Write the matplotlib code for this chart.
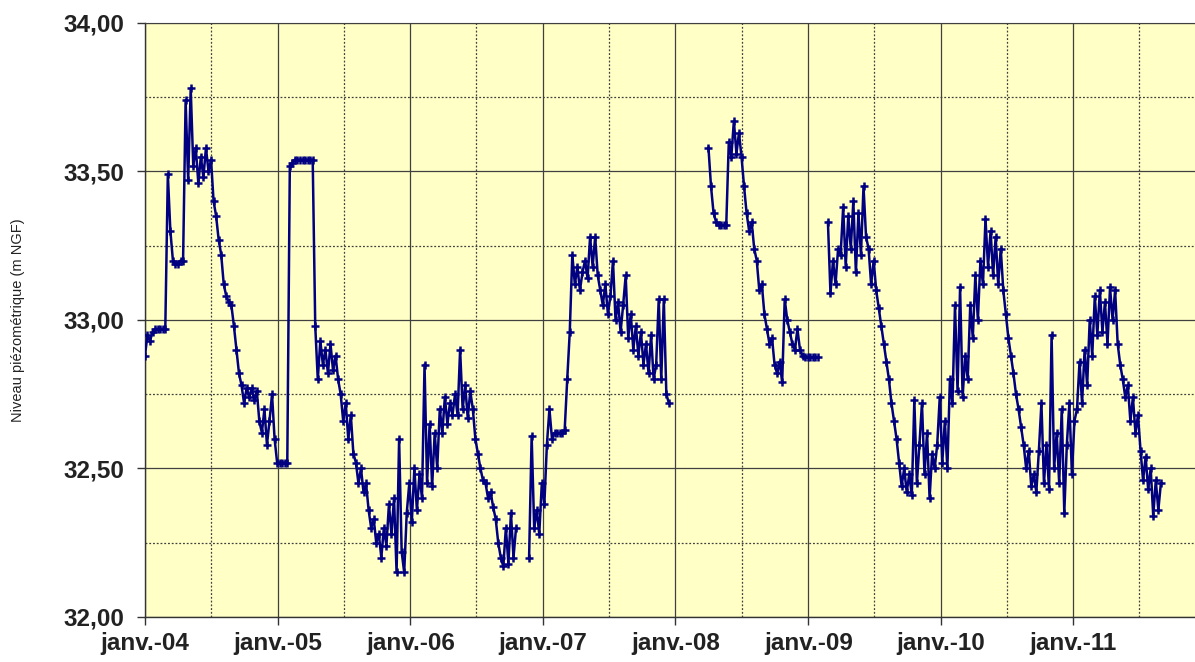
import matplotlib
matplotlib.use("Agg")
import matplotlib.pyplot as plt
import matplotlib.dates as mdates
import matplotlib.ticker as mticker
import numpy as np
import pandas as pd

plt.rcParams['font.family'] = ['Liberation Sans', 'DejaVu Sans']

# Weekly readings of the piezometric level (m NGF), one list per recording period
seg1_start = '2004-01-01'
seg1_level = [
    32.88, 32.95, 32.93, 32.96, 32.97, 32.97, 32.97, 32.97, 32.97, 33.49,
    33.30, 33.20, 33.19, 33.19, 33.20, 33.20, 33.74, 33.47, 33.78, 33.52,
    33.58, 33.46, 33.55, 33.48, 33.58, 33.50, 33.54, 33.40, 33.35, 33.27,
    33.22, 33.12, 33.08, 33.06, 33.05, 32.98, 32.90, 32.82, 32.78, 32.72,
    32.77, 32.74, 32.77, 32.73, 32.76, 32.66, 32.62, 32.70, 32.58, 32.66,
    32.75, 32.60, 32.52, 32.52, 32.52, 32.52, 32.52, 33.52, 33.53, 33.54,
    33.54, 33.54, 33.54, 33.54, 33.54, 33.54, 33.54, 32.98, 32.80, 32.93,
    32.85, 32.90, 32.82, 32.92, 32.83, 32.88, 32.80, 32.75, 32.66, 32.72,
    32.60, 32.68, 32.55, 32.52, 32.45, 32.50, 32.42, 32.45, 32.36, 32.30,
    32.33, 32.25, 32.28, 32.20, 32.30, 32.24, 32.38, 32.28, 32.40, 32.15,
    32.60, 32.22, 32.15, 32.35, 32.45, 32.32, 32.50, 32.36, 32.48, 32.40,
    32.85, 32.45, 32.65, 32.44, 32.62, 32.50, 32.70, 32.62, 32.74, 32.65,
    32.72, 32.68, 32.75, 32.68, 32.90, 32.70, 32.78, 32.67, 32.76, 32.70,
    32.60, 32.55, 32.50, 32.46, 32.45, 32.40, 32.42, 32.37, 32.33, 32.25,
    32.20, 32.17, 32.30, 32.18, 32.35, 32.20, 32.30,
]
seg2_start = '2006-11-24'
seg2_level = [
    32.20, 32.61, 32.30, 32.36, 32.28, 32.45, 32.38, 32.58, 32.70, 32.60,
    32.62, 32.62, 32.62, 32.62, 32.63, 32.80, 32.96, 33.22, 33.12, 33.18,
    33.10, 33.16, 33.20, 33.14, 33.28, 33.18, 33.28, 33.15, 33.10, 33.05,
    33.12, 33.02, 33.08, 33.20, 33.00, 33.06, 32.96, 33.05, 33.15, 32.94,
    33.02, 32.90, 32.98, 32.88, 32.96, 32.85, 32.92, 32.82, 32.95, 32.80,
    32.85, 33.07, 32.80, 33.07, 32.75, 32.72,
]
seg3_start = '2008-04-01'
seg3_level = [
    33.58, 33.45, 33.36, 33.33, 33.32, 33.32, 33.32, 33.32, 33.60, 33.55,
    33.67, 33.56, 33.63, 33.55, 33.45, 33.36, 33.30, 33.33, 33.24, 33.20,
    33.10, 33.12, 33.02, 32.97, 32.92, 32.94, 32.85, 32.82, 32.86, 32.79,
    33.07, 33.00, 32.96, 32.92, 32.90, 32.97, 32.90, 32.88, 32.875, 32.875,
    32.875, 32.875, 32.875, 32.875,
]
seg4_start = '2009-02-24'
seg4_level = [
    33.33, 33.09, 33.20, 33.12, 33.24, 33.22, 33.38, 33.18, 33.35, 33.24,
    33.40, 33.16, 33.36, 33.22, 33.45, 33.28, 33.24, 33.12, 33.20, 33.10,
    33.04, 32.98, 32.92, 32.86, 32.80, 32.72, 32.66, 32.60, 32.52, 32.44,
    32.50, 32.42, 32.48, 32.41, 32.73, 32.45, 32.58, 32.72, 32.48, 32.62,
    32.40, 32.55, 32.50, 32.58, 32.74, 32.52, 32.66, 32.50, 32.80, 32.72,
    33.05, 32.76, 33.11, 32.74, 32.88, 32.80, 33.05, 32.94, 33.15, 33.00,
    33.20, 33.12, 33.34, 33.18, 33.30, 33.15, 33.28, 33.12, 33.24, 33.10,
    33.02, 32.94, 32.88, 32.82, 32.75, 32.70, 32.64, 32.58, 32.50, 32.56,
    32.44, 32.48, 32.42, 32.56, 32.72, 32.45, 32.58, 32.43, 32.95, 32.50,
    32.62, 32.45, 32.70, 32.35, 32.58, 32.72, 32.48, 32.66, 32.70, 32.86,
    32.72, 32.90, 32.78, 33.00, 32.88, 33.08, 32.95, 33.10, 32.96, 33.06,
    32.92, 33.11, 33.00, 33.10, 32.92, 32.85, 32.80, 32.74, 32.78, 32.66,
    32.74, 32.62, 32.68, 32.56, 32.46, 32.54, 32.43, 32.50, 32.34, 32.46,
    32.36, 32.45,
]

segments = [
    (seg1_start, seg1_level),
    (seg2_start, seg2_level),
    (seg3_start, seg3_level),
    (seg4_start, seg4_level),
]

fig = plt.figure(figsize=(11.95, 6.62), dpi=100)
ax = fig.add_axes([0.1213, 0.068, 0.8787, 0.8973])
ax.set_facecolor('#FFFFC6')

for start, level in segments:
    dates = pd.date_range(start, periods=len(level), freq='7D')
    ax.plot(dates, level, color='#000080', lw=1.8, marker='+',
            ms=6, mew=1.8, zorder=3)

ax.set_xlim(pd.Timestamp('2004-01-01'), pd.Timestamp('2011-12-02'))
ax.set_ylim(32, 34)

ax.xaxis.set_major_locator(mdates.YearLocator())
ax.xaxis.set_minor_locator(mdates.MonthLocator(bymonth=7))
ax.xaxis.set_major_formatter(mticker.FuncFormatter(
    lambda v, pos: 'janv.-%02d' % (mdates.num2date(v).year % 100)))
ax.yaxis.set_major_locator(mticker.MultipleLocator(0.5))
ax.yaxis.set_minor_locator(mticker.MultipleLocator(0.25))
ax.yaxis.set_major_formatter(mticker.FuncFormatter(
    lambda v, pos: ('%.2f' % v).replace('.', ',')))

ax.grid(which='major', color='#404040', lw=0.9, ls='-')
ax.grid(which='minor', color='#404040', lw=0.9, ls=(0, (1.5, 1.5)))
ax.set_axisbelow(True)

ax.tick_params(which='major', direction='out', length=6, width=1,
               color='#333333', labelsize=17.5, pad=5)
ax.tick_params(axis='y', which='major', pad=9)
ax.tick_params(which='minor', length=0)
for lab in ax.get_xticklabels() + ax.get_yticklabels():
    lab.set_fontweight('bold')
    lab.set_color('#222222')

ax.spines['right'].set_visible(False)
ax.spines['top'].set_color('#404040')
for s in ('left', 'bottom'):
    ax.spines[s].set_color('#333333')
    ax.spines[s].set_linewidth(1.0)

fig.text(0.015, 0.517, 'Niveau piézométrique (m NGF)', rotation=90,
         ha='center', va='center', fontsize=10.5, color='#222222')

fig.savefig('out.png', dpi=100)
